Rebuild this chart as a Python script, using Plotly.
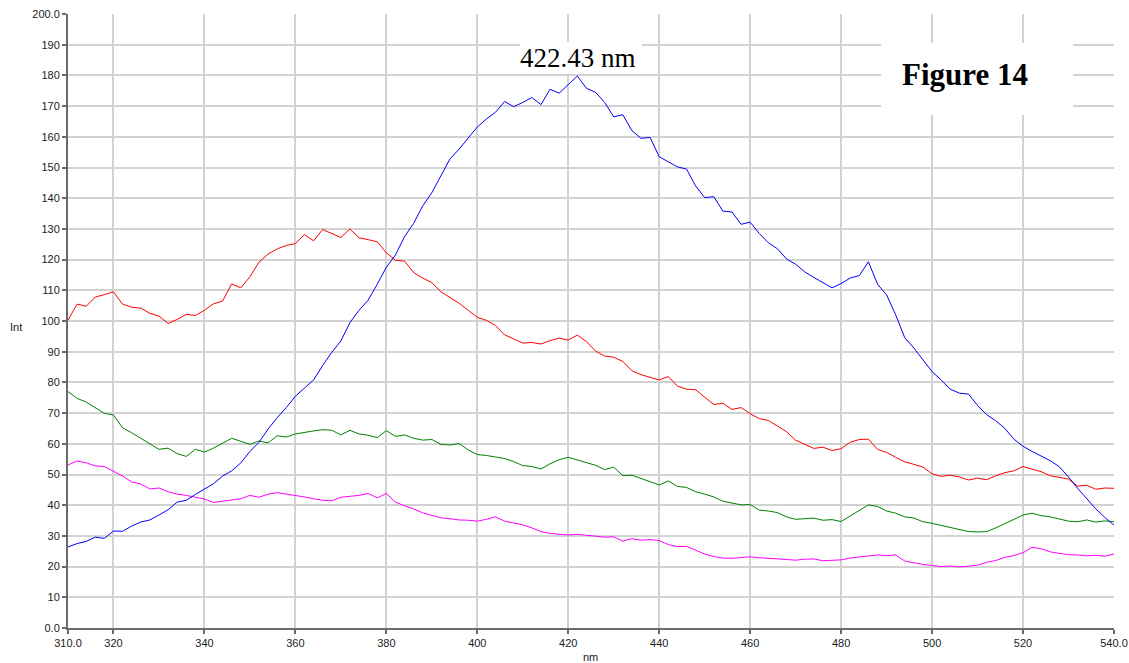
import plotly.graph_objects as go

# wavelength grid (nm), 2 nm steps from 310 to 540
wavelength = list(range(310, 541, 2))

blue = [26.4, 27.5, 28.2, 29.6, 29.2, 31.6, 31.5, 33.2, 34.5, 35.2,
        36.8, 38.5, 41.0, 41.6, 43.5, 45.2, 47.0, 49.5, 51.2, 53.8,
        57.5, 60.5, 64.8, 68.5, 71.8, 75.5, 78.2, 80.8, 85.5, 89.8,
        93.5, 99.5, 103.5, 106.8, 112.0, 117.5, 121.5, 127.5, 131.8, 137.5,
        141.8, 147.5, 152.8, 156.0, 159.5, 163.2, 165.8, 168.0, 171.5, 169.8,
        171.2, 172.8, 170.5, 175.5, 174.2, 177.0, 179.8, 175.8, 174.5, 171.2,
        166.5, 167.2, 162.0, 159.5, 159.8, 153.5, 151.8, 150.2, 149.5, 144.0,
        140.2, 140.5, 135.8, 135.5, 131.5, 132.2, 128.5, 125.5, 123.5, 120.2,
        118.5, 116.0, 114.2, 112.5, 110.8, 112.2, 114.0, 114.8, 119.3, 112.0,
        108.5, 102.0, 94.5, 91.2, 87.5, 83.5, 80.8, 77.8, 76.5, 76.2,
        72.5, 69.5, 67.5, 65.0, 61.5, 59.2, 57.5, 56.0, 54.5, 52.5,
        49.2, 45.5, 42.2, 38.8, 36.0, 33.5]

red = [100.3, 105.5, 104.8, 107.8, 108.6, 109.5, 105.5, 104.5, 104.2, 102.5,
       101.6, 99.2, 100.5, 102.2, 101.8, 103.5, 105.6, 106.5, 112.1, 110.8,
       114.4, 119.2, 121.8, 123.5, 124.6, 125.2, 128.2, 126.1, 129.8, 128.5,
       127.2, 130.0, 127.1, 126.5, 125.8, 122.2, 119.8, 119.5, 115.8, 114.0,
       112.5, 109.5, 107.6, 105.8, 103.5, 101.2, 100.2, 98.5, 95.5, 94.2,
       92.8, 93.0, 92.5, 93.6, 94.4, 93.8, 95.4, 93.3, 90.2, 88.6,
       88.2, 86.8, 83.8, 82.5, 81.6, 80.8, 81.9, 78.8, 77.8, 77.6,
       75.2, 72.8, 73.2, 71.2, 71.8, 69.8, 68.2, 67.6, 65.8, 63.9,
       61.2, 59.8, 58.5, 58.9, 57.8, 58.4, 60.5, 61.4, 61.5, 58.2,
       57.2, 55.6, 54.1, 53.3, 52.4, 50.2, 49.4, 49.8, 49.2, 48.2,
       48.8, 48.3, 49.6, 50.6, 51.2, 52.6, 51.8, 50.9, 49.6, 49.1,
       48.5, 46.2, 46.5, 45.2, 45.6, 45.5]

green = [77.0, 74.8, 73.6, 71.8, 69.9, 69.4, 65.2, 63.6, 61.8, 60.2,
         58.2, 58.6, 56.8, 55.9, 58.2, 57.3, 58.6, 60.2, 61.8, 60.8,
         59.8, 60.9, 60.3, 62.6, 62.2, 63.2, 63.8, 64.2, 64.6, 64.4,
         62.9, 64.4, 63.2, 62.8, 62.0, 64.3, 62.4, 62.9, 61.8, 61.2,
         61.4, 59.8, 59.6, 60.1, 58.0, 56.5, 56.2, 55.6, 55.2, 54.2,
         52.9, 52.6, 51.8, 53.5, 54.8, 55.6, 54.8, 54.0, 53.0, 51.6,
         52.4, 49.6, 49.8, 48.7, 47.6, 46.6, 47.9, 46.1, 45.8, 44.4,
         43.6, 42.7, 41.3, 40.6, 40.1, 40.2, 38.4, 38.1, 37.6, 36.2,
         35.4, 35.6, 35.8, 35.1, 35.3, 34.7, 36.5, 38.2, 40.1, 39.6,
         38.1, 37.4, 36.2, 35.8, 34.6, 34.1, 33.4, 32.7, 32.2, 31.4,
         31.3, 31.4, 32.6, 34.0, 35.3, 36.8, 37.4, 36.6, 36.2, 35.6,
         34.8, 34.6, 35.2, 34.5, 34.9, 34.6]

magenta = [53.1, 54.4, 53.8, 52.8, 52.6, 51.0, 49.5, 47.6, 46.9, 45.3,
           45.6, 44.4, 43.6, 43.2, 42.6, 42.0, 40.9, 41.3, 41.8, 42.1,
           43.2, 42.6, 43.6, 44.1, 43.6, 43.2, 42.7, 42.1, 41.6, 41.4,
           42.6, 42.9, 43.2, 43.8, 42.4, 43.8, 41.0, 39.8, 38.8, 37.5,
           36.6, 35.9, 35.6, 35.2, 35.1, 34.8, 35.4, 36.2, 34.8, 34.3,
           33.6, 32.6, 31.4, 30.8, 30.6, 30.3, 30.5, 30.2, 30.1, 29.6,
           29.7, 28.3, 29.1, 28.6, 28.8, 28.5, 27.2, 26.5, 26.6, 25.4,
           24.1, 23.3, 22.8, 22.7, 22.9, 23.2, 22.9, 22.7, 22.5, 22.2,
           22.1, 22.4, 22.5, 21.9, 22.0, 22.2, 22.8, 23.1, 23.5, 23.8,
           23.6, 23.8, 21.8, 21.2, 20.7, 20.4, 20.0, 20.2, 19.9, 20.1,
           20.5, 21.4, 22.0, 23.0, 23.6, 24.5, 26.3, 25.8, 24.8, 24.3,
           23.9, 23.8, 23.5, 23.7, 23.4, 24.1]

x_tickvals = [310, 320, 340, 360, 380, 400, 420, 440, 460, 480, 500, 520, 540]
x_ticktext = ["310.0", "320", "340", "360", "380", "400", "420", "440",
              "460", "480", "500", "520", "540.0"]
y_tickvals = list(range(0, 201, 10))
y_ticktext = ["0.0"] + [str(v) for v in range(10, 200, 10)] + ["200.0"]

peak_label = "422.43 nm"
figure_label = "Figure 14"

W, H = 1129, 663
L, R, T, B = 68, 15, 14, 35

fig = go.Figure()
for ys, col in [(red, "#ff0000"), (green, "#008000"),
                (magenta, "#ff00ff"), (blue, "#0000ff")]:
    fig.add_trace(go.Scatter(x=wavelength, y=ys, mode="lines",
                             line=dict(color=col, width=1),
                             hoverinfo="skip", showlegend=False))

def px_x(p):
    return (p - L) / (W - L - R)

def px_y(p):
    return 1 - (p - T) / (H - T - B)

shapes = [
    dict(type="rect", xref="paper", yref="paper", layer="above",
         x0=px_x(881), x1=px_x(1073), y0=px_y(115), y1=px_y(43),
         fillcolor="white", line=dict(width=0)),
    dict(type="rect", xref="paper", yref="paper", layer="above",
         x0=px_x(520), x1=px_x(642), y0=px_y(74), y1=px_y(42),
         fillcolor="white", line=dict(width=0)),
]

annotations = [
    dict(text="<b>" + figure_label + "</b>", xref="paper", yref="paper",
         x=px_x(965), y=px_y(74),
         xanchor="center", yanchor="middle", showarrow=False,
         font=dict(family="Liberation Serif, Times New Roman, serif", size=31,
                   color="black")),
    dict(text=peak_label, xref="paper", yref="paper", x=px_x(578), y=px_y(58),
         xanchor="center", yanchor="middle", showarrow=False,
         font=dict(family="Liberation Serif, Times New Roman, serif", size=27,
                   color="black")),
    dict(text="Int", xref="paper", yref="paper", x=px_x(16), y=px_y(327),
         xanchor="center", yanchor="middle", showarrow=False,
         font=dict(family="Liberation Sans, Arial, sans-serif", size=11,
                   color="#222")),
    dict(text="nm", xref="paper", yref="paper", x=px_x(590), y=px_y(657),
         xanchor="center", yanchor="middle", showarrow=False,
         font=dict(family="Liberation Sans, Arial, sans-serif", size=11,
                   color="#222")),
]

axis_font = dict(family="Liberation Sans, Arial, sans-serif", size=11, color="#222")

common = dict(showgrid=True, gridcolor="#d2d2d2", gridwidth=1.5,
              showline=True, linecolor="#6a6a6a", linewidth=2,
              ticks="outside", ticklen=4, tickcolor="#6a6a6a", tickwidth=1.5,
              tickfont=axis_font, zeroline=False, fixedrange=True,
              automargin=False)

fig.update_layout(
    width=W, height=H,
    margin=dict(l=L, r=R, t=T, b=B, autoexpand=False),
    paper_bgcolor="white", plot_bgcolor="white",
    showlegend=False, hovermode=False,
    shapes=shapes, annotations=annotations,
    xaxis=dict(range=[310, 540], tickvals=x_tickvals, ticktext=x_ticktext, **common),
    yaxis=dict(range=[0, 200], tickvals=y_tickvals, ticktext=y_ticktext, **common),
)

fig.write_html("out.html", config={"displayModeBar": False})
